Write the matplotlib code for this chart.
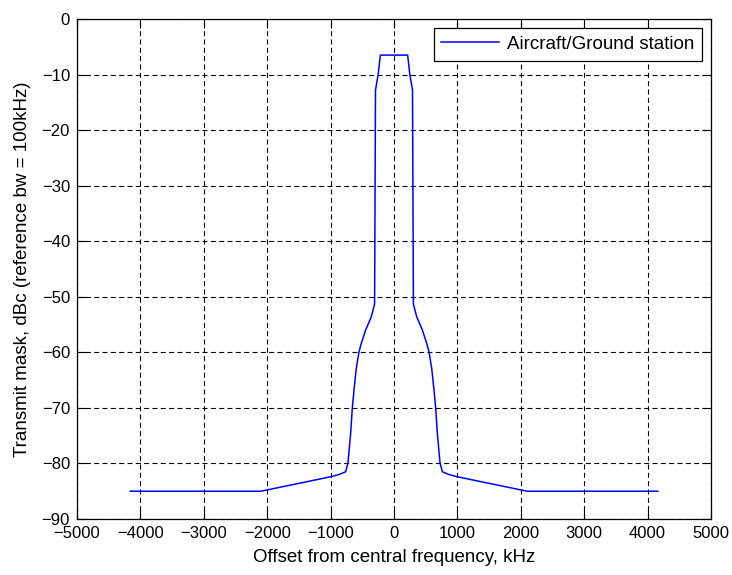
import numpy as np
import matplotlib.pyplot as plt

# mascara de transmision (lado positivo, simetrica respecto a 0)
offset_khz = [0, 215, 250, 292, 306, 358, 448, 516, 552, 595, 631, 658, 684,
              726, 763, 868, 1000, 2100, 4160]
mascara_dbc = [-6.5, -6.5, -10, -12.8, -51.3, -53.6, -56, -58.4, -59.9, -62.9,
               -66.8, -70.1, -74.6, -79.9, -81.5, -82, -82.4, -85, -85]

x_ticks = list(range(-5000, 5001, 1000))
y_ticks = list(range(-90, 1, 10))

# curva completa: lado negativo espejado + lado positivo
x = np.array(offset_khz)
y = np.array(mascara_dbc)
x_full = np.concatenate([-x[::-1], x[1:]])
y_full = np.concatenate([y[::-1], y[1:]])

plt.rcParams['font.family'] = ['Liberation Sans', 'DejaVu Sans']

fig = plt.figure(figsize=(7.32, 5.75), dpi=100)
ax = fig.add_axes([77/732, 56/575, 634/732, 500/575])

ax.plot(x_full, y_full, color='#0000ff', linewidth=1.1,
        label='Aircraft/Ground station')

ax.set_xlim(-5000, 5000)
ax.set_ylim(-90, 0)
ax.set_xticks(x_ticks)
ax.set_yticks(y_ticks)
ax.tick_params(direction='in', length=6.5, width=0.8, labelsize=12,
               top=True, right=True)
ax.tick_params(axis='x', pad=5)
ax.tick_params(axis='y', pad=5)
for s in ax.spines.values():
    s.set_linewidth(0.9)

ax.grid(True, color='black', linestyle=(0, (4.5, 3)), linewidth=0.8)

ax.set_xlabel('Offset from central frequency, kHz', fontsize=13.5, labelpad=6)
ax.set_ylabel('Transmit mask, dBc (reference bw = 100kHz)', fontsize=13.5,
              labelpad=8)

leg = ax.legend(loc='upper right', fontsize=13.5, fancybox=False,
                edgecolor='black', framealpha=1, handlelength=3.1,
                handletextpad=0.4, borderaxespad=0.5, borderpad=0.4)
leg.get_frame().set_linewidth(0.9)

fig.savefig('out.png', dpi=100)
